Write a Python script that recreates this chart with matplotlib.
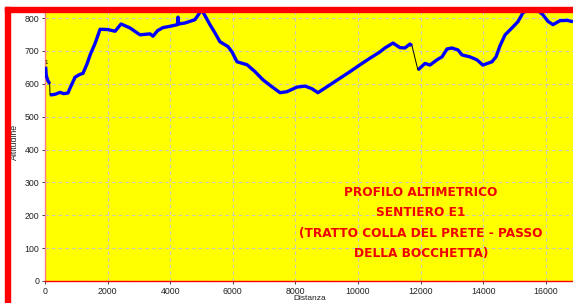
from matplotlib import pyplot as plt
from matplotlib.patches import Rectangle

# Profilo altimetrico sentiero E1 (tratto Colla del Prete - Passo della Bocchetta)
# Values: distance in metres, altitude in metres.

# first short piece of track, before the gap
dist_a = [20, 40, 90, 150]
alt_a = [652, 625, 610, 600]

# main stretch of track
dist_b = [160, 320, 480, 600, 735, 800, 960, 1100, 1215, 1340, 1450, 1600, 1760,
          2010, 2240, 2430, 2715, 3035, 3355, 3450, 3600, 3770, 3995, 4230, 4250,
          4270, 4470, 4790, 4950, 4985, 5050, 5270, 5430, 5590, 5850, 5975, 6135,
          6455, 6710, 6965, 7250, 7510, 7730, 8050, 8310, 8530, 8720, 9105, 9425,
          9745, 10065, 10385, 10700, 10860, 11120, 11340, 11500, 11660, 11725]
alt_b = [566, 568, 574, 570, 572, 587, 620, 628, 632, 660, 690, 723, 766,
         765, 760, 782, 770, 749, 752, 745, 762, 771, 775, 780, 803,
         782, 785, 795, 817, 835, 818, 780, 755, 728, 713, 697, 667,
         658, 637, 612, 591, 573, 576, 590, 593, 585, 573, 597, 617,
         637, 658, 678, 697, 709, 724, 710, 709, 721, 716]

# last stretch, after the second gap
dist_c = [11915, 12140, 12300, 12525, 12685, 12845, 13000, 13195, 13320, 13575,
          13800, 13990, 14280, 14410, 14535, 14700, 14920, 15110, 15270, 15500,
          15720, 15910, 16070, 16230, 16450, 16680, 16870]
alt_c = [642, 662, 657, 673, 682, 706, 709, 703, 688, 682,
         673, 657, 667, 682, 715, 749, 770, 789, 816, 830,
         825, 810, 790, 780, 792, 793, 789]

x_ticks = [0, 2000, 4000, 6000, 8000, 10000, 12000, 14000, 16000]
y_ticks = [0, 100, 200, 300, 400, 500, 600, 700, 800]

title_lines = ['PROFILO ALTIMETRICO', 'SENTIERO E1',
               '(TRATTO COLLA DEL PRETE - PASSO', 'DELLA BOCCHETTA)']

W, H = 573, 303

fig = plt.figure(figsize=(W / 100, H / 100), dpi=100, facecolor='white')
ax = fig.add_axes([45 / W, (H - 281) / H, (W - 45) / W, (281 - 11.5) / H])
ax.set_facecolor('#ffff00')

# track pieces in blue, jumps across gaps as thin black lines
for xs, ys in [(dist_a, alt_a), (dist_b, alt_b), (dist_c, alt_c)]:
    ax.plot(xs, ys, color='#0000ff', lw=2.4, solid_capstyle='butt', zorder=3)
ax.plot([dist_a[-1], dist_b[0]], [alt_a[-1], alt_b[0]], color='black', lw=0.7, zorder=4)
ax.plot([dist_b[-1], dist_c[0]], [alt_b[-1], alt_c[0]], color='black', lw=0.7, zorder=4)
ax.text(dist_a[0], alt_a[0] + 4, '1', fontsize=4, color='black', ha='center', va='bottom')

ax.set_xlim(0, 16870)
ax.set_ylim(0, 820)
ax.set_xticks(x_ticks)
ax.set_yticks(y_ticks)
ax.grid(True, color='#c8c8c8', linestyle=(0, (3, 3)), linewidth=0.8)
ax.set_axisbelow(True)

ax.tick_params(labelsize=6.3, colors='#222222', length=2.5, width=0.6, pad=1.5)
for lab in ax.get_xticklabels() + ax.get_yticklabels():
    lab.set_family('Liberation Sans')

for side in ['top', 'right']:
    ax.spines[side].set_visible(False)
ax.spines['bottom'].set_color('#ff0000')
ax.spines['left'].set_color('#ff8080')
ax.spines['bottom'].set_linewidth(1.0)
ax.spines['left'].set_linewidth(1.0)

# red caption inside the plot
for i, line in enumerate(title_lines):
    fig.text(421 / W, (H - 193 - 20 * i) / H, line, color='#f00000', fontsize=8.7,
             fontweight='bold', ha='center', va='center', zorder=5)

# axis names
fig.text(310 / W, (H - 294.5) / H, 'Distanza', fontsize=6.0, color='#222222',
         ha='center', va='top', family='Liberation Sans')
fig.text(14 / W, (H - 142) / H, 'Altitudine', fontsize=6.3, color='#222222',
         ha='center', va='center', rotation=90, family='Liberation Sans')

# red frame on top and left
fig.patches.append(Rectangle((5 / W, (H - 11.5) / H), (W - 5) / W, 4.5 / H,
                             transform=fig.transFigure, color='#ff0000', zorder=10))
fig.patches.append(Rectangle((5 / W, 0), 5 / W, (H - 7) / H,
                             transform=fig.transFigure, color='#ff0000', zorder=10))

fig.savefig('out.png', dpi=100, facecolor='white')
